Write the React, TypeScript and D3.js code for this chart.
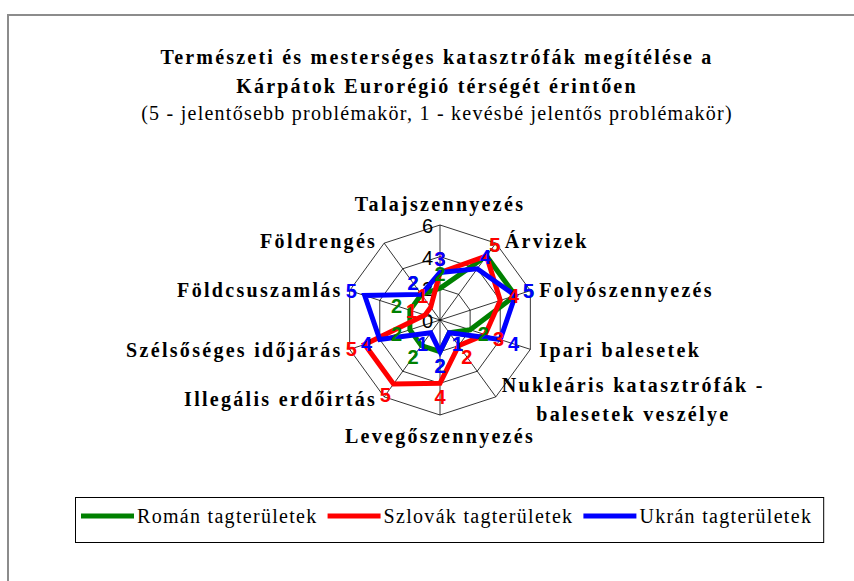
import React, { useEffect, useRef } from "react";
import * as d3 from "d3";

const categories = [
  "Talajszennyezés",
  "Árvizek",
  "Folyószennyezés",
  "Ipari balesetek",
  "Nukleáris katasztrófák -|balesetek veszélye",
  "Levegőszennyezés",
  "Illegális erdőirtás",
  "Szélsőséges időjárás",
  "Földcsuszamlás",
  "Földrengés",
];
const romanValues = [2, 5, 5, 2, 1, 2, 2, 2, 2, 2];
const szlovakValues = [3, 5, 4, 3, 2, 4, 5, 5, 1, 1];
const ukranValues = [3, 4, 5, 4, 1, 2, 1, 4, 5, 2];
const seriesNames = ["Román tagterületek", "Szlovák tagterületek", "Ukrán tagterületek"];
const seriesColors = ["#008000", "#ff0000", "#0000ff"];
const radialTicks = [0, 2, 4, 6];
const titleLines = [
  "Természeti és mesterséges katasztrófák megítélése a",
  "Kárpátok Eurorégió térségét érintően",
];
const subtitle = "(5 - jelentősebb problémakör, 1 - kevésbé jelentős problémakör)";

export default function App() {
  const ref = useRef<SVGSVGElement | null>(null);

  useEffect(() => {
    const svg = d3.select(ref.current);
    svg.selectAll("*").remove();
    const W = 854, H = 581;
    const cx = 440, cy = 320;
    const serif = "'Liberation Serif', 'Times New Roman', serif";
    const sans = "'Liberation Sans', Arial, sans-serif";

    svg.append("rect").attr("x", 0).attr("y", 0).attr("width", W).attr("height", H).attr("fill", "#fff");
    svg.append("rect").attr("x", 8).attr("y", 15).attr("width", 900).attr("height", 700)
      .attr("fill", "#fff").attr("stroke", "#8c8c8c").attr("stroke-width", 2);

    // Title
    const title = svg.append("g").attr("font-family", serif).attr("text-anchor", "middle").attr("fill", "#000");
    titleLines.forEach((t, i) => {
      title.append("text").attr("x", 437).attr("y", 64 + i * 29)
        .attr("font-size", 20).attr("font-weight", "bold").attr("letter-spacing", 2.2).text(t);
    });
    title.append("text").attr("x", 437).attr("y", 120)
      .attr("font-size", 20).attr("letter-spacing", 1.25).text(subtitle);

    const n = categories.length;
    const r = d3.scaleLinear().domain([0, 6]).range([0, 95]);
    const angle = d3.scaleLinear().domain([0, n]).range([0, 2 * Math.PI]);
    const idx = d3.range(n);

    const g = svg.append("g").attr("transform", `translate(${cx},${cy})`);

    // grid rings
    const ring = d3.lineRadial<number>().angle((d) => angle(d)).curve(d3.curveLinearClosed);
    radialTicks.filter((t) => t > 0).forEach((t) => {
      g.append("path").attr("d", ring.radius(r(t))(idx) as string)
        .attr("fill", "none").attr("stroke", "#000").attr("stroke-width", 0.8);
    });
    // spokes
    idx.forEach((i) => {
      const a = angle(i);
      g.append("line").attr("x1", 0).attr("y1", 0)
        .attr("x2", r(6) * Math.sin(a)).attr("y2", -r(6) * Math.cos(a))
        .attr("stroke", "#000").attr("stroke-width", 0.8);
    });

    // tick labels
    radialTicks.forEach((t) => {
      g.append("text").attr("x", -7).attr("y", -r(t) + 1)
        .attr("text-anchor", "end").attr("dominant-baseline", "central")
        .attr("font-family", sans).attr("font-size", 20).attr("fill", "#000").text(String(t));
    });

    // category labels
    categories.forEach((c, i) => {
      const a = angle(i);
      const s = Math.sin(a), co = Math.cos(a);
      const vx = r(6) * s, vy = -r(6) * co;
      const lines = c.split("|");
      const txt = g.append("text").attr("font-family", serif).attr("font-weight", "bold")
        .attr("font-size", 20).attr("letter-spacing", 2.3).attr("fill", "#000");
      if (Math.abs(s) < 0.01) {
        txt.attr("text-anchor", "middle").attr("x", 0)
          .attr("y", vy - co * 21).attr("dominant-baseline", "central").text(c);
      } else if (lines.length > 1) {
        const tmp = txt.append("tspan").text(lines[0]);
        const w = (tmp.node() as SVGTextContentElement).getComputedTextLength();
        tmp.remove();
        const mid = vx + 6 + w / 2;
        txt.attr("text-anchor", "middle");
        lines.forEach((l, k) => {
          txt.append("tspan").attr("x", mid)
            .attr("y", vy + 3 + (k - (lines.length - 1) / 2) * 29)
            .attr("dominant-baseline", "central").text(l);
        });
      } else {
        txt.attr("text-anchor", s > 0 ? "start" : "end")
          .attr("x", s > 0 ? vx + 9 : vx - 7)
          .attr("y", vy - 3 * co).attr("dominant-baseline", "central").text(c);
      }
    });

    // series
    const seriesData = [romanValues, szlovakValues, ukranValues];
    const line = d3.lineRadial<number>()
      .angle((_, i) => angle(i))
      .radius((d) => r(d))
      .curve(d3.curveLinearClosed);
    seriesData.forEach((vals, si) => {
      g.append("path").attr("d", line(vals) as string)
        .attr("fill", "none").attr("stroke", seriesColors[si])
        .attr("stroke-width", 5).attr("stroke-linejoin", "miter");
    });
    // data labels
    seriesData.forEach((vals, si) => {
      vals.forEach((v, i) => {
        const a = angle(i);
        const rr = r(v) + 14;
        g.append("text").attr("x", rr * Math.sin(a)).attr("y", -rr * Math.cos(a))
          .attr("text-anchor", "middle").attr("dominant-baseline", "central")
          .attr("font-family", sans).attr("font-weight", "bold").attr("font-size", 20)
          .attr("fill", seriesColors[si]).text(String(v));
      });
    });

    // legend
    const lg = svg.append("g");
    const box = lg.append("rect").attr("fill", "#fff").attr("stroke", "#000").attr("stroke-width", 1);
    let x = 81;
    const ly = 516;
    seriesNames.forEach((name, si) => {
      lg.append("line").attr("x1", x).attr("x2", x + 53).attr("y1", ly).attr("y2", ly)
        .attr("stroke", seriesColors[si]).attr("stroke-width", 5);
      x += 56;
      const t = lg.append("text").attr("x", x).attr("y", ly).attr("dominant-baseline", "central")
        .attr("font-family", serif).attr("font-size", 20).attr("letter-spacing", 1.3)
        .attr("fill", "#000").text(name);
      x += (t.node() as SVGTextContentElement).getComputedTextLength() + 10;
    });
    box.attr("x", 75.5).attr("y", 497.5).attr("width", x - 75 + 1).attr("height", 45);
  }, []);

  return (
    <div style={{ position: "absolute", left: 0, top: 0 }}>
      <svg ref={ref} width={854} height={581} style={{ display: "block" }} />
    </div>
  );
}
